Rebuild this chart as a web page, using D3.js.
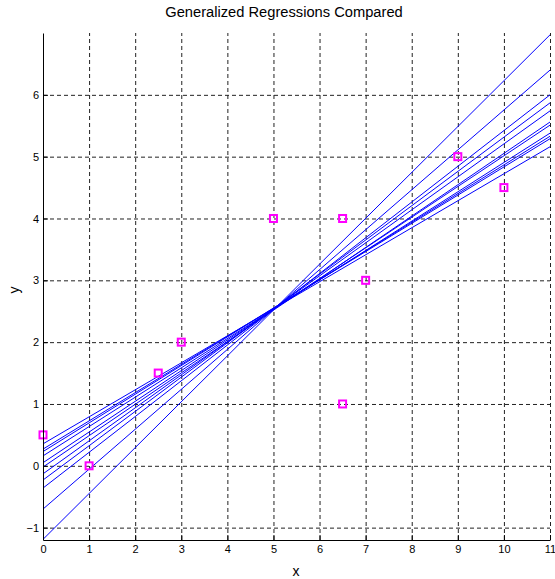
<!DOCTYPE html>
<html>
<head>
<meta charset="utf-8">
<script src="https://cdn.jsdelivr.net/npm/d3@7"></script>
<style>
  body { margin: 0; background: #fff; }
  text { font-family: "Liberation Sans", Arial, sans-serif; }
</style>
</head>
<body>
<script>
var svgWidth = 555;
var svgHeight = 579;

var margin = { top: 33, right: 5, bottom: 39, left: 43 };

var chartWidth = 550 - margin.left;
var chartHeight = 540 - margin.top;

// DATA

var pointX = [0, 1, 2.5, 3, 5, 6.5, 7, 6.5, 9, 10];
var pointY = [0.5, 0, 1.5, 2, 4, 4, 3, 1, 5, 4.5];

// each fitted line: value at x = 0 and value at x = 11
var lineStartY = [-1.19, -0.70, -0.36, -0.23, -0.13, -0.02, 0.05, 0.16, 0.23, 0.27, 0.355];
var lineEndY = [6.97, 6.40, 6.00, 5.87, 5.74, 5.56, 5.51, 5.38, 5.33, 5.29, 5.16];
var lineStartX = 0;
var lineEndX = 11;

var xTicks = [0, 1, 2, 3, 4, 5, 6, 7, 8, 9, 10, 11];
var yTicks = [-1, 0, 1, 2, 3, 4, 5, 6];
var xGrid = [1, 2, 3, 4, 5, 6, 7, 8, 9, 10, 11];

var svg = d3.select("body")
  .append("svg")
  .attr("width", svgWidth)
  .attr("height", svgHeight);

var chartGroup = svg.append("g")
  .attr("transform", `translate(${margin.left}, ${margin.top})`);

// SCALES

var xScale = d3.scaleLinear().domain([0, 11]).range([0, chartWidth]);
var yScale = d3.scaleLinear().domain([-1.2, 7]).range([chartHeight, 0]);

// GRID

var gridX = chartGroup.append("g")
  .attr("transform", `translate(0, ${chartHeight})`)
  .call(d3.axisBottom(xScale).tickValues(xGrid).tickSize(-chartHeight).tickFormat(""));
var gridY = chartGroup.append("g")
  .call(d3.axisLeft(yScale).tickValues(yTicks).tickSize(-chartWidth).tickFormat(""));

[gridX, gridY].forEach(function(g) {
  g.select(".domain").remove();
  g.selectAll("line")
    .attr("stroke", "#222")
    .attr("stroke-width", 1)
    .attr("stroke-dasharray", "4,3");
});

// LINES

var line = d3.line()
  .x(d => xScale(d[0]))
  .y(d => yScale(d[1]));

var lineData = lineStartY.map((s, i) => [[lineStartX, s], [lineEndX, lineEndY[i]]]);

chartGroup.selectAll(".fit")
  .data(lineData)
  .enter()
  .append("path")
  .attr("class", "fit")
  .attr("d", line)
  .attr("fill", "none")
  .attr("stroke", "#0000ff")
  .attr("stroke-width", 1);

// POINTS

var pts = pointX.map((x, i) => ({ x: x, y: pointY[i] }));

chartGroup.selectAll(".pt")
  .data(pts)
  .enter()
  .append("rect")
  .attr("class", "pt")
  .attr("x", d => xScale(d.x) - 3.5)
  .attr("y", d => yScale(d.y) - 3.5)
  .attr("width", 7)
  .attr("height", 7)
  .attr("fill", "none")
  .attr("stroke", "#ff00ff")
  .attr("stroke-width", 2);

// AXES

var bottomAxis = d3.axisBottom(xScale).tickValues(xTicks).tickSizeInner(-5).tickSizeOuter(0).tickPadding(5);
var leftAxis = d3.axisLeft(yScale).tickValues(yTicks).tickSizeInner(-5).tickSizeOuter(0).tickPadding(4);

var gx = chartGroup.append("g")
  .attr("transform", `translate(0, ${chartHeight})`)
  .call(bottomAxis);
var gy = chartGroup.append("g")
  .call(leftAxis);

[gx, gy].forEach(function(g) {
  g.select(".domain").attr("stroke", "#000");
  g.selectAll("line").attr("stroke", "#000");
  g.selectAll("text").attr("font-size", 11).attr("fill", "#000")
    .style("font-family", "'Liberation Sans', Arial, sans-serif");
});

// TITLE AND LABELS

svg.append("text")
  .attr("x", 284)
  .attr("y", 17)
  .attr("text-anchor", "middle")
  .attr("font-size", 14.7)
  .text("Generalized Regressions Compared");

svg.append("text")
  .attr("x", 296)
  .attr("y", 576)
  .attr("text-anchor", "middle")
  .attr("font-size", 14)
  .text("x");

svg.append("text")
  .attr("transform", "translate(19, 290) rotate(-90)")
  .attr("text-anchor", "middle")
  .attr("font-size", 14)
  .text("y");
</script>
</body>
</html>
